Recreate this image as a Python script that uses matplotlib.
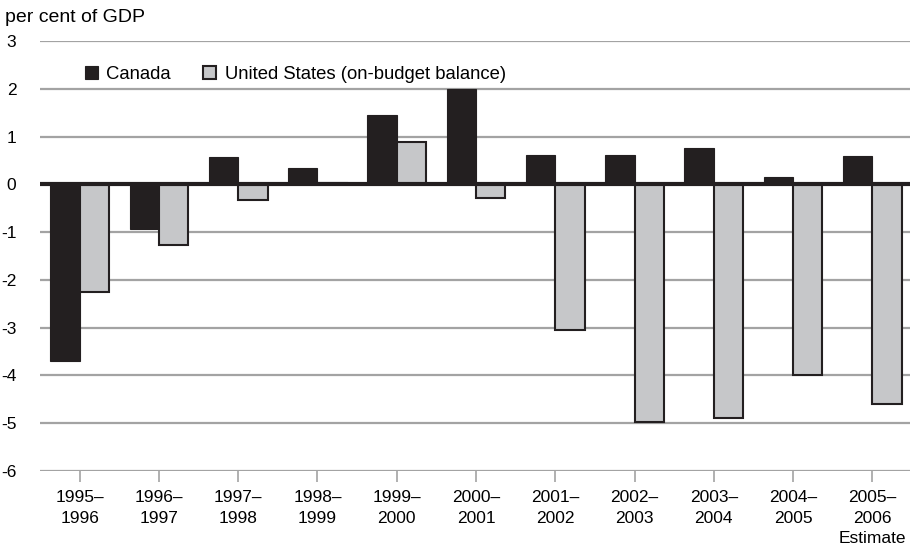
import matplotlib
matplotlib.use("Agg")
import matplotlib.pyplot as plt
import numpy as np

plt.rcParams['font.family'] = ['Liberation Sans', 'DejaVu Sans']

categories = ["1995–\n1996", "1996–\n1997", "1997–\n1998", "1998–\n1999", "1999–\n2000",
              "2000–\n2001", "2001–\n2002", "2002–\n2003", "2003–\n2004", "2004–\n2005",
              "2005–\n2006\nEstimate"]
canada = [-3.70, -0.94, 0.57, 0.34, 1.45, 2.00, 0.62, 0.62, 0.75, 0.16, 0.60]
united_states = [-2.25, -1.26, -0.33, 0.03, 0.89, -0.29, -3.05, -4.97, -4.90, -4.00, -4.59]
y_ticks = [3, 2, 1, 0, -1, -2, -3, -4, -5, -6]

dark = "#231f20"
light = "#c6c7c9"
grid = "#a3a3a3"

fig = plt.figure(figsize=(9.1, 5.5), dpi=100)
ax = fig.add_axes([40 / 910, 1 - 471 / 550, 872 / 910, 430 / 550])

x = np.arange(len(categories))
w = 0.37
ax.bar(x - w / 2, canada, width=w, color=dark, edgecolor=dark, linewidth=0.8,
       label="Canada", zorder=3)
ax.bar(x + w / 2, united_states, width=w, color=light, edgecolor=dark, linewidth=1.5,
       label="United States (on-budget balance)", zorder=3)

ax.set_xlim(-0.5, len(categories) - 0.5)
ax.set_ylim(-6, 3)
ax.set_yticks(y_ticks)
ax.set_yticklabels([str(v) for v in y_ticks], fontsize=12.5)
ax.yaxis.grid(True, color=grid, linewidth=1.6, zorder=0)
ax.set_axisbelow(True)
ax.axhline(0, color=dark, linewidth=3, zorder=4)

ax.set_xticks(x)
ax.set_xticklabels(categories, fontsize=12.5, linespacing=1.45)
ax.tick_params(axis="x", length=8, width=1.2, color=grid, pad=6)
ax.tick_params(axis="y", length=0, pad=17)

for s in ax.spines.values():
    s.set_visible(False)

ax.legend(loc="upper left", bbox_to_anchor=(0.032, 0.98), ncol=2, frameon=False,
          fontsize=13.3, handlelength=0.72, handleheight=0.72, handletextpad=0.45,
          columnspacing=1.75)

fig.text(5 / 910, 1 - 18 / 550, "per cent of GDP", fontsize=14, va="center", ha="left")

fig.savefig("out.png", dpi=100)
